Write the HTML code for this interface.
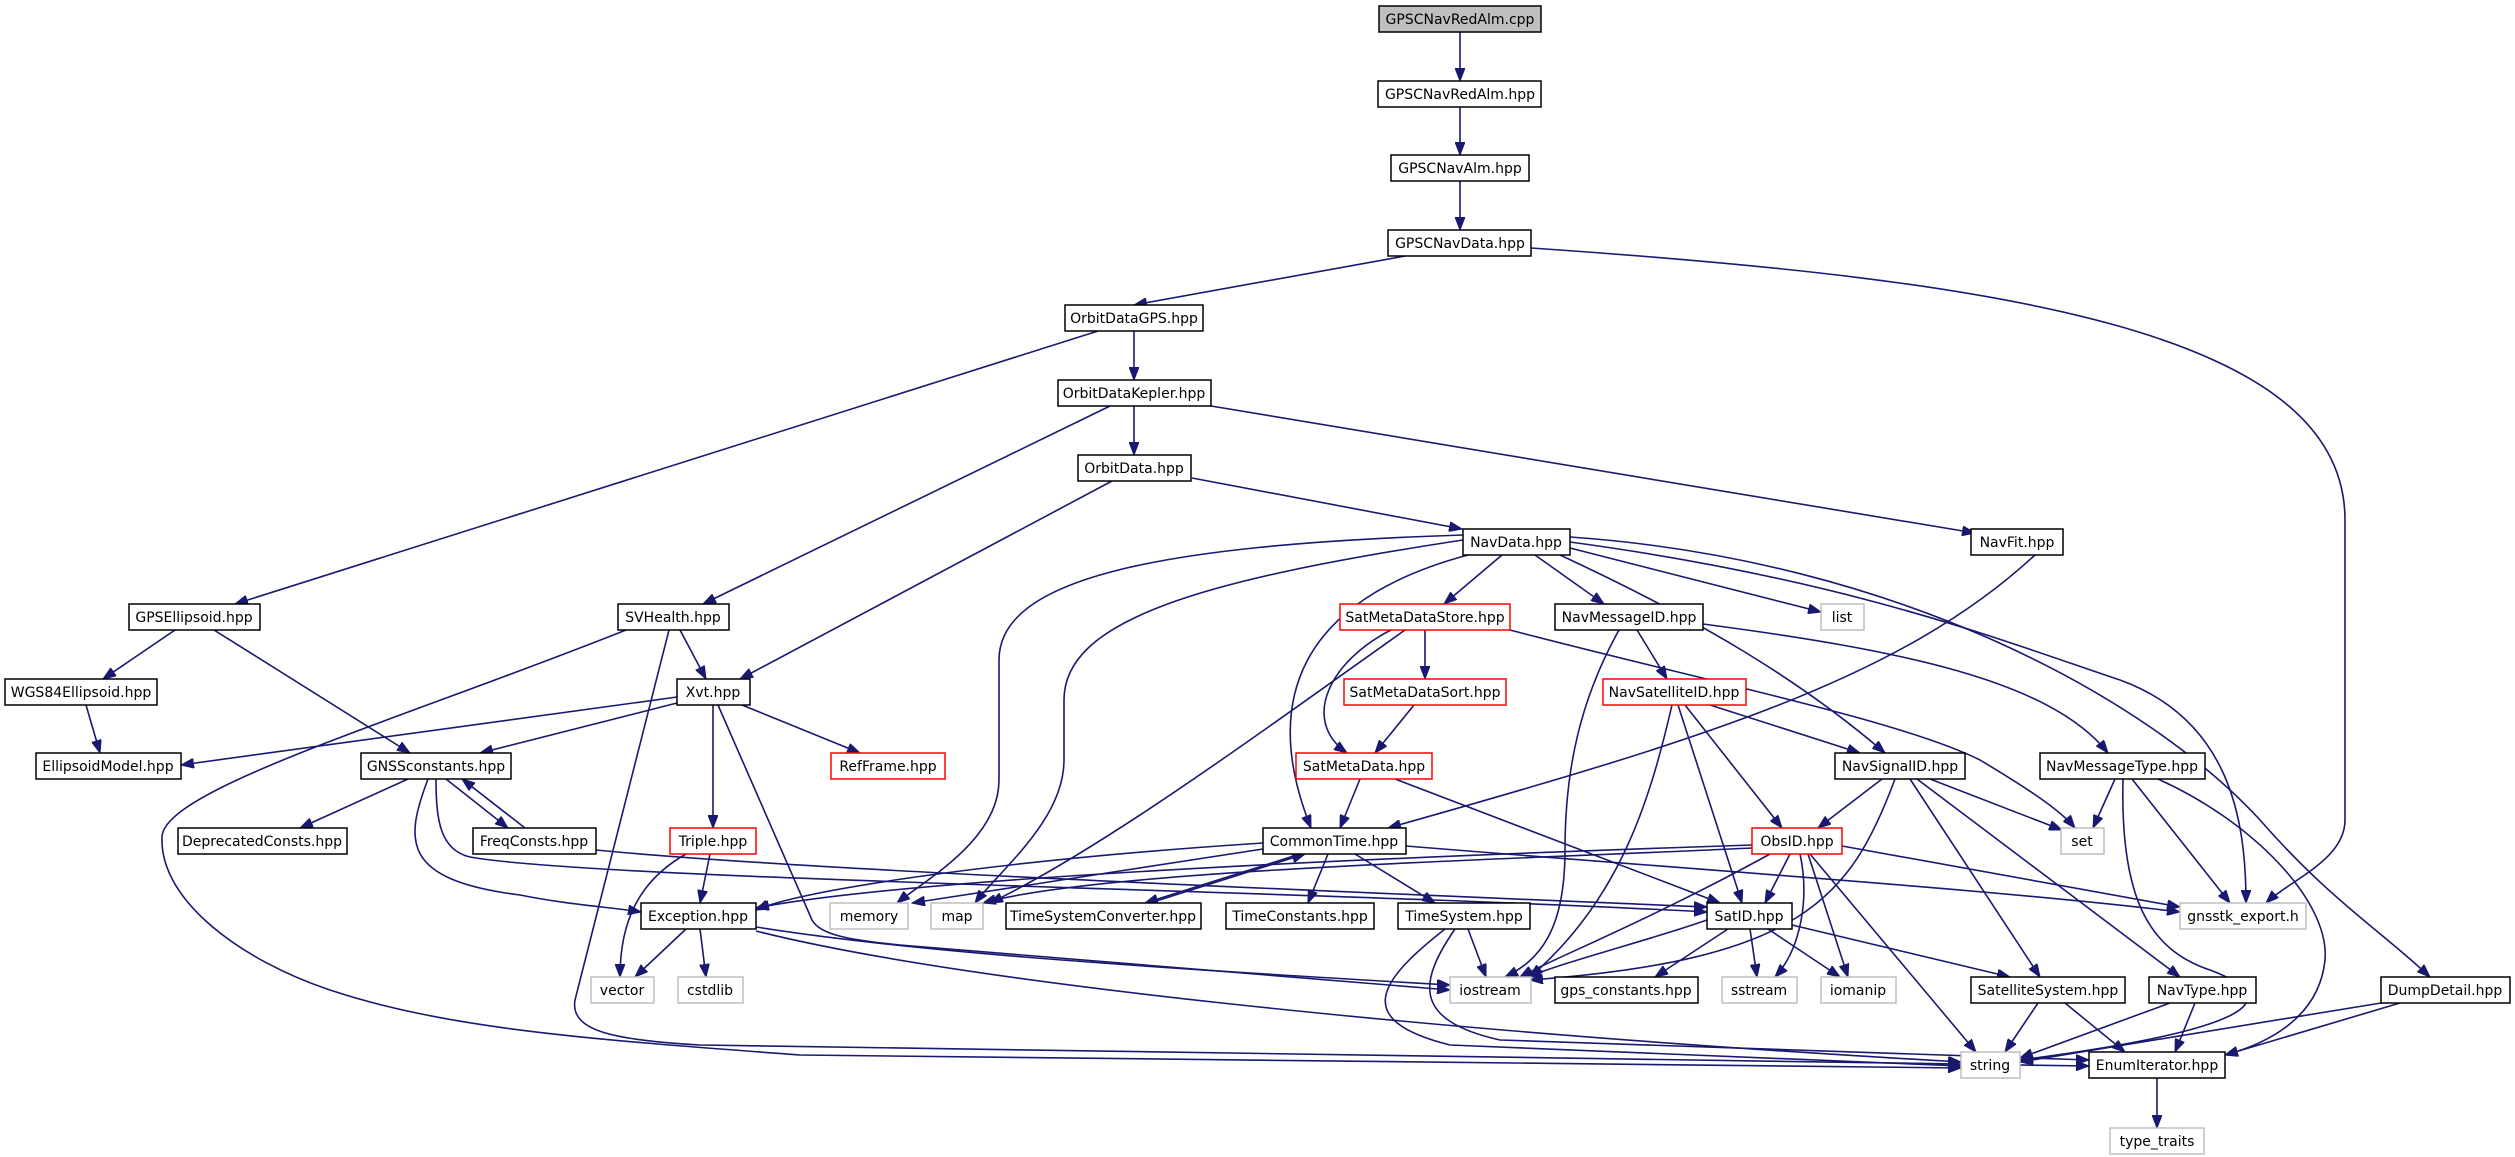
<!DOCTYPE html>
<html><head><meta charset="utf-8"><style>
html,body{margin:0;padding:0;background:#fff;}
svg{display:block;}
text{font-family:"DejaVu Sans","Liberation Sans",sans-serif;font-size:14px;fill:#000;}
.e{fill:none;stroke:#191970;stroke-width:1.6;marker-end:url(#a);}
.n{fill:#fff;stroke:#000;stroke-width:1.5;}
.r{fill:#fff;stroke:#ff0000;stroke-width:1.5;}
.g{fill:#fff;stroke:#bfbfbf;stroke-width:1.5;}
</style></head><body>
<svg width="2515" height="1157" viewBox="0 0 2515 1157" xmlns="http://www.w3.org/2000/svg">
<defs><marker id="a" markerUnits="userSpaceOnUse" markerWidth="14" markerHeight="10" refX="13" refY="5" orient="auto"><path d="M0,0 L13,5 L0,10 z" fill="#191970" stroke="#191970"/></marker></defs>
<g>
<path class="e" d="M1460 32 L1460 81"/>
<path class="e" d="M1460 107 L1460 155"/>
<path class="e" d="M1460 181 L1460 230"/>
<path class="e" d="M1405 256 L1134 305"/>
<path class="e" d="M1531 248 C2000 280,2345 330,2345 520 L2345 820 C2345 860,2290 880,2266 903"/>
<path class="e" d="M1134 331 L1134 380"/>
<path class="e" d="M1098 331 L235 604"/>
<path class="e" d="M1134 406 L1134 455"/>
<path class="e" d="M1110 406 L703 604"/>
<path class="e" d="M1205 405 L1975 533"/>
<path class="e" d="M1192 478 L1462 529"/>
<path class="e" d="M1112 481 L740 679"/>
<path class="e" d="M2035 555 C1900 680,1700 740,1388 828"/>
<path class="e" d="M1463 535 C1150 545,999 580,999 660 L999 780 C999 840,925 880,897 903"/>
<path class="e" d="M1463 540 C1200 580,1064 620,1064 700 L1064 760 C1064 820,1000 870,975 903"/>
<path class="e" d="M1468 555 C1300 600,1260 700,1311 828"/>
<path class="e" d="M1502 555 L1444 604"/>
<path class="e" d="M1535 555 L1604 604"/>
<path class="e" d="M1570 548 L1821 612"/>
<path class="e" d="M1560 555 C1700 620,1800 680,1885 753"/>
<path class="e" d="M1570 542 C1850 580,2000 640,2120 680 C2230 720,2246 820,2246 903"/>
<path class="e" d="M1570 537 C1900 560,2150 700,2260 820 C2330 900,2380 930,2430 977"/>
<path class="e" d="M175 630 L103 679"/>
<path class="e" d="M214 630 L410 753"/>
<path class="e" d="M626 630 C400 720,160 790,162 838 C160 900,240 960,330 990 C450 1030,600 1040,800 1055 L1961 1068"/>
<path class="e" d="M669 630 L575 1000 C570 1030,610 1040,700 1045 L2089 1066"/>
<path class="e" d="M680 630 L706 679"/>
<path class="e" d="M86 705 L100 753"/>
<path class="e" d="M677 697 L181 765"/>
<path class="e" d="M677 703 L480 753"/>
<path class="e" d="M742 705 L860 753"/>
<path class="e" d="M713 705 L713 828"/>
<path class="e" d="M718 705 L812 920 C820 935,850 940,900 945 L1450 990"/>
<path class="e" d="M408 779 L300 828"/>
<path class="e" d="M446 779 L508 828"/>
<path class="e" d="M525 828 L462 779"/>
<path class="e" d="M428 779 C405 840,400 880,520 895 C570 905,610 907,641 912"/>
<path class="e" d="M436 779 C436 820,440 850,470 857 C600 880,1300 890,1707 912"/>
<path class="e" d="M596 850 C800 870,1300 890,1707 907"/>
<path class="e" d="M710 854 L700 903"/>
<path class="e" d="M686 854 C640 880,620 920,620 977"/>
<path class="e" d="M686 929 L635 977"/>
<path class="e" d="M700 929 L706 977"/>
<path class="e" d="M756 927 C900 950,1100 965,1450 985"/>
<path class="e" d="M756 931 C950 980,1400 1030,1961 1062"/>
<path class="e" d="M1425 630 L1425 679"/>
<path class="e" d="M1414 705 L1375 753"/>
<path class="e" d="M1393 629 C1330 660,1300 720,1347 753"/>
<path class="e" d="M1405 630 C1250 740,1100 850,990 903"/>
<path class="e" d="M1510 630 C1700 680,1900 720,1980 760 C2030 790,2060 810,2075 828"/>
<path class="e" d="M1360 779 L1340 828"/>
<path class="e" d="M1395 779 L1720 903"/>
<path class="e" d="M1263 843 C1000 860,800 890,756 910"/>
<path class="e" d="M1263 849 L912 903"/>
<path class="e" d="M1300 854 L1145 903"/>
<path class="e" d="M1150 903 L1305 854"/>
<path class="e" d="M1328 854 L1308 903"/>
<path class="e" d="M1355 854 L1435 903"/>
<path class="e" d="M1406 846 C1700 870,2000 890,2180 912"/>
<path class="e" d="M1752 845 C1300 860,900 880,756 908"/>
<path class="e" d="M1752 848 C1500 860,1100 870,983 903"/>
<path class="e" d="M1790 854 L1765 903"/>
<path class="e" d="M1842 846 L2180 907"/>
<path class="e" d="M1770 854 C1650 920,1550 960,1520 977"/>
<path class="e" d="M1800 854 C1810 900,1800 950,1775 977"/>
<path class="e" d="M1808 854 L1848 977"/>
<path class="e" d="M1810 854 L1976 1052"/>
<path class="e" d="M1468 929 L1486 977"/>
<path class="e" d="M1445 929 C1380 980,1350 1020,1450 1045 L1961 1066"/>
<path class="e" d="M1455 929 C1420 980,1410 1020,1500 1040 L2089 1060"/>
<path class="e" d="M1707 920 C1650 940,1570 960,1528 977"/>
<path class="e" d="M1728 929 L1655 977"/>
<path class="e" d="M1750 929 L1757 977"/>
<path class="e" d="M1768 929 L1840 977"/>
<path class="e" d="M1792 925 L2010 977"/>
<path class="e" d="M1637 630 L1667 679"/>
<path class="e" d="M1619 630 C1580 700,1565 770,1565 850 C1565 930,1540 960,1505 977"/>
<path class="e" d="M1703 624 C1900 650,2050 680,2108 753"/>
<path class="e" d="M1710 705 L1860 753"/>
<path class="e" d="M1685 705 L1782 828"/>
<path class="e" d="M1678 705 L1742 903"/>
<path class="e" d="M1672 705 C1650 800,1620 900,1530 977"/>
<path class="e" d="M1882 779 L1818 828"/>
<path class="e" d="M1930 779 L2062 830"/>
<path class="e" d="M1910 779 L2040 977"/>
<path class="e" d="M1917 779 L2180 977"/>
<path class="e" d="M1895 779 C1850 900,1800 960,1530 980"/>
<path class="e" d="M2115 779 L2093 828"/>
<path class="e" d="M2132 779 L2230 903"/>
<path class="e" d="M2158 779 C2250 820,2330 900,2325 960 C2320 1010,2280 1040,2225 1055"/>
<path class="e" d="M2123 779 C2120 900,2150 950,2210 970 C2290 1000,2250 1030,2020 1060"/>
<path class="e" d="M2038 1003 L2005 1052"/>
<path class="e" d="M2065 1003 L2125 1052"/>
<path class="e" d="M2170 1003 L2020 1058"/>
<path class="e" d="M2195 1003 L2175 1052"/>
<path class="e" d="M2381 1003 L2020 1062"/>
<path class="e" d="M2400 1003 L2225 1055"/>
<path class="e" d="M2157 1078 L2157 1128"/>
</g>
<g>
<rect x="1379" y="6" width="162" height="26" fill="#bfbfbf" stroke="#000" stroke-width="1.5"/><text x="1460" y="24" text-anchor="middle">GPSCNavRedAlm.cpp</text>
<rect class="n" x="1378" y="81" width="163" height="26"/><text x="1460" y="99" text-anchor="middle">GPSCNavRedAlm.hpp</text>
<rect class="n" x="1391" y="155" width="138" height="26"/><text x="1460" y="173" text-anchor="middle">GPSCNavAlm.hpp</text>
<rect class="n" x="1388" y="230" width="143" height="26"/><text x="1460" y="248" text-anchor="middle">GPSCNavData.hpp</text>
<rect class="n" x="1065" y="305" width="138" height="26"/><text x="1134" y="323" text-anchor="middle">OrbitDataGPS.hpp</text>
<rect class="n" x="1058" y="380" width="153" height="26"/><text x="1134" y="398" text-anchor="middle">OrbitDataKepler.hpp</text>
<rect class="n" x="1078" y="455" width="113" height="26"/><text x="1134" y="473" text-anchor="middle">OrbitData.hpp</text>
<rect class="n" x="1463" y="529" width="107" height="26"/><text x="1516" y="547" text-anchor="middle">NavData.hpp</text>
<rect class="n" x="1971" y="529" width="92" height="26"/><text x="2017" y="547" text-anchor="middle">NavFit.hpp</text>
<rect class="n" x="129" y="604" width="131" height="26"/><text x="194" y="622" text-anchor="middle">GPSEllipsoid.hpp</text>
<rect class="n" x="618" y="604" width="111" height="26"/><text x="673" y="622" text-anchor="middle">SVHealth.hpp</text>
<rect class="r" x="1340" y="604" width="170" height="26"/><text x="1425" y="622" text-anchor="middle">SatMetaDataStore.hpp</text>
<rect class="n" x="1555" y="604" width="148" height="26"/><text x="1629" y="622" text-anchor="middle">NavMessageID.hpp</text>
<rect class="g" x="1821" y="604" width="43" height="26"/><text x="1842" y="622" text-anchor="middle">list</text>
<rect class="n" x="5" y="679" width="152" height="26"/><text x="81" y="697" text-anchor="middle">WGS84Ellipsoid.hpp</text>
<rect class="n" x="677" y="679" width="73" height="26"/><text x="713" y="697" text-anchor="middle">Xvt.hpp</text>
<rect class="r" x="1344" y="679" width="162" height="26"/><text x="1425" y="697" text-anchor="middle">SatMetaDataSort.hpp</text>
<rect class="r" x="1603" y="679" width="143" height="26"/><text x="1674" y="697" text-anchor="middle">NavSatelliteID.hpp</text>
<rect class="n" x="36" y="753" width="145" height="26"/><text x="108" y="771" text-anchor="middle">EllipsoidModel.hpp</text>
<rect class="n" x="361" y="753" width="150" height="26"/><text x="436" y="771" text-anchor="middle">GNSSconstants.hpp</text>
<rect class="r" x="831" y="753" width="114" height="26"/><text x="888" y="771" text-anchor="middle">RefFrame.hpp</text>
<rect class="r" x="1296" y="753" width="136" height="26"/><text x="1364" y="771" text-anchor="middle">SatMetaData.hpp</text>
<rect class="n" x="1835" y="753" width="130" height="26"/><text x="1900" y="771" text-anchor="middle">NavSignalID.hpp</text>
<rect class="n" x="2040" y="753" width="165" height="26"/><text x="2122" y="771" text-anchor="middle">NavMessageType.hpp</text>
<rect class="n" x="178" y="828" width="169" height="26"/><text x="262" y="846" text-anchor="middle">DeprecatedConsts.hpp</text>
<rect class="n" x="473" y="828" width="123" height="26"/><text x="534" y="846" text-anchor="middle">FreqConsts.hpp</text>
<rect class="r" x="670" y="828" width="86" height="26"/><text x="713" y="846" text-anchor="middle">Triple.hpp</text>
<rect class="n" x="1263" y="828" width="143" height="26"/><text x="1334" y="846" text-anchor="middle">CommonTime.hpp</text>
<rect class="r" x="1752" y="828" width="90" height="26"/><text x="1797" y="846" text-anchor="middle">ObsID.hpp</text>
<rect class="g" x="2061" y="828" width="43" height="26"/><text x="2082" y="846" text-anchor="middle">set</text>
<rect class="n" x="641" y="903" width="115" height="26"/><text x="698" y="921" text-anchor="middle">Exception.hpp</text>
<rect class="g" x="830" y="903" width="78" height="26"/><text x="869" y="921" text-anchor="middle">memory</text>
<rect class="g" x="931" y="903" width="52" height="26"/><text x="957" y="921" text-anchor="middle">map</text>
<rect class="n" x="1006" y="903" width="195" height="26"/><text x="1103" y="921" text-anchor="middle">TimeSystemConverter.hpp</text>
<rect class="n" x="1226" y="903" width="148" height="26"/><text x="1300" y="921" text-anchor="middle">TimeConstants.hpp</text>
<rect class="n" x="1398" y="903" width="132" height="26"/><text x="1464" y="921" text-anchor="middle">TimeSystem.hpp</text>
<rect class="n" x="1707" y="903" width="85" height="26"/><text x="1749" y="921" text-anchor="middle">SatID.hpp</text>
<rect class="g" x="2180" y="903" width="126" height="26"/><text x="2243" y="921" text-anchor="middle">gnsstk_export.h</text>
<rect class="g" x="591" y="977" width="63" height="26"/><text x="622" y="995" text-anchor="middle">vector</text>
<rect class="g" x="678" y="977" width="65" height="26"/><text x="710" y="995" text-anchor="middle">cstdlib</text>
<rect class="g" x="1450" y="977" width="81" height="26"/><text x="1490" y="995" text-anchor="middle">iostream</text>
<rect class="n" x="1555" y="977" width="143" height="26"/><text x="1626" y="995" text-anchor="middle">gps_constants.hpp</text>
<rect class="g" x="1722" y="977" width="75" height="26"/><text x="1759" y="995" text-anchor="middle">sstream</text>
<rect class="g" x="1821" y="977" width="75" height="26"/><text x="1858" y="995" text-anchor="middle">iomanip</text>
<rect class="n" x="1971" y="977" width="154" height="26"/><text x="2048" y="995" text-anchor="middle">SatelliteSystem.hpp</text>
<rect class="n" x="2149" y="977" width="107" height="26"/><text x="2202" y="995" text-anchor="middle">NavType.hpp</text>
<rect class="n" x="2381" y="977" width="129" height="26"/><text x="2445" y="995" text-anchor="middle">DumpDetail.hpp</text>
<rect class="g" x="1961" y="1052" width="59" height="26"/><text x="1990" y="1070" text-anchor="middle">string</text>
<rect class="n" x="2089" y="1052" width="136" height="26"/><text x="2157" y="1070" text-anchor="middle">EnumIterator.hpp</text>
<rect class="g" x="2110" y="1128" width="94" height="26"/><text x="2157" y="1146" text-anchor="middle">type_traits</text>
</g>
</svg>
</body></html>
